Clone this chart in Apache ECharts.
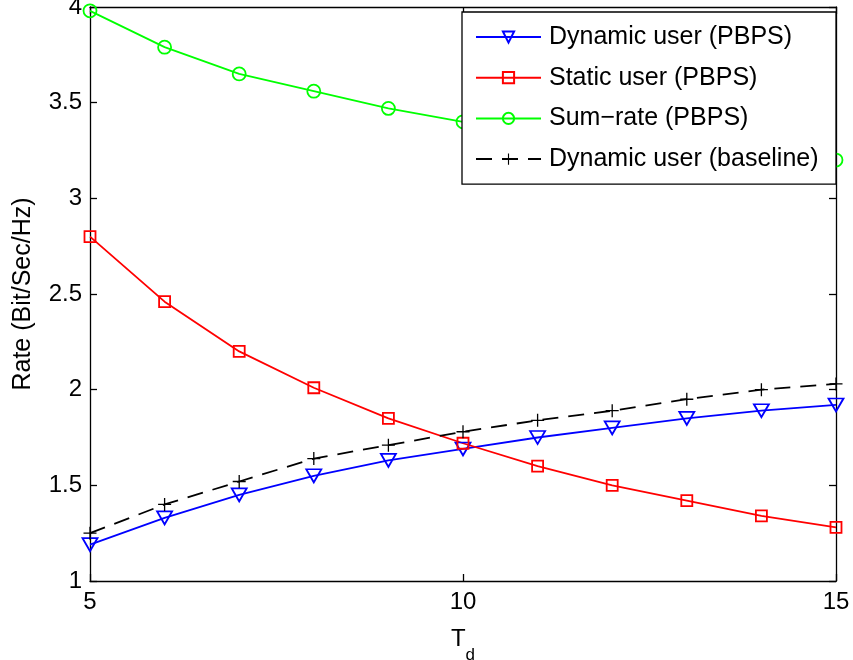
<!DOCTYPE html>
<html>
<head>
<meta charset="utf-8">
<script src="https://cdn.jsdelivr.net/npm/echarts@6/dist/echarts.min.js"></script>
<style>
html,body{margin:0;padding:0;background:#fff;}
#chart{width:853px;height:660px;}
</style>
</head>
<body>
<div id="chart"></div>
<script>
const tdValues = [5, 6, 7, 8, 9, 10, 11, 12, 13, 14, 15];
const dynamicPBPS = [1.19, 1.33, 1.45, 1.55, 1.63, 1.69, 1.75, 1.80, 1.85, 1.89, 1.92];
const staticPBPS = [2.80, 2.46, 2.20, 2.01, 1.85, 1.72, 1.60, 1.50, 1.42, 1.34, 1.28];
const sumRatePBPS = [3.98, 3.79, 3.65, 3.56, 3.47, 3.40, 3.35, 3.30, 3.27, 3.23, 3.20];
const dynamicBaseline = [1.25, 1.40, 1.52, 1.64, 1.71, 1.78, 1.84, 1.89, 1.95, 2.00, 2.03];
const seriesNames = ['Dynamic user (PBPS)', 'Static user (PBPS)', 'Sum\u2212rate (PBPS)', 'Dynamic user (baseline)'];
const xAxisTitle = 'T';
const xAxisSub = 'd';
const yAxisTitle = 'Rate (Bit/Sec/Hz)';

const FONT = '"Liberation Sans", Arial, Helvetica, sans-serif';
const pair = (xs, ys) => xs.map((x, i) => [x, ys[i]]);

const chart = echarts.init(document.getElementById('chart'), null, {renderer: 'canvas'});

const axisLineStyle = {color: '#000', width: 1.3};
const plusPath = 'path://M-1,-10 L1,-10 L1,-1 L10,-1 L10,1 L1,1 L1,10 L-1,10 L-1,1 L-10,1 L-10,-1 L-1,-1 Z';

const option = {
  animation: false,
  backgroundColor: '#fff',
  textStyle: {fontFamily: FONT},
  grid: {left: 90, right: 17, top: 7, bottom: 79, containLabel: false, outerBoundsMode: 'none'},
  xAxis: [
    {
      type: 'value', min: 5, max: 15, interval: 5, position: 'bottom',
      axisLine: {show: true, lineStyle: axisLineStyle},
      axisTick: {show: true, inside: true, length: 7, lineStyle: axisLineStyle},
      axisLabel: {show: true, color: '#000', fontSize: 24, fontFamily: FONT, margin: 9},
      splitLine: {show: false},
      name: '{t|' + xAxisTitle + '}{d|' + xAxisSub + '}',
      nameLocation: 'middle', nameGap: 46,
      nameTextStyle: {
        rich: {
          t: {fontSize: 24, fontFamily: FONT, color: '#000', verticalAlign: 'top', lineHeight: 37},
          d: {fontSize: 17, fontFamily: FONT, color: '#000', verticalAlign: 'bottom', lineHeight: 37}
        }
      }
    },
    {
      type: 'value', min: 5, max: 15, interval: 5, position: 'top',
      axisLine: {show: true, lineStyle: axisLineStyle},
      axisTick: {show: true, inside: true, length: 7, lineStyle: axisLineStyle},
      axisLabel: {show: false},
      splitLine: {show: false}
    }
  ],
  yAxis: [
    {
      type: 'value', min: 1, max: 4, interval: 0.5, position: 'left',
      axisLine: {show: true, lineStyle: axisLineStyle},
      axisTick: {show: true, inside: true, length: 7, lineStyle: axisLineStyle},
      axisLabel: {show: true, color: '#000', fontSize: 24, fontFamily: FONT, margin: 8, padding: [4, 0, 0, 0]},
      splitLine: {show: false},
      name: yAxisTitle, nameLocation: 'middle', nameGap: 54,
      nameTextStyle: {fontSize: 25, fontFamily: FONT, color: '#000'}
    },
    {
      type: 'value', min: 1, max: 4, interval: 0.5, position: 'right',
      axisLine: {show: true, lineStyle: axisLineStyle},
      axisTick: {show: true, inside: true, length: 7, lineStyle: axisLineStyle},
      axisLabel: {show: false},
      splitLine: {show: false}
    }
  ],
  legend: {
    orient: 'vertical',
    right: 17, top: 12,
    backgroundColor: '#fff',
    borderColor: '#000', borderWidth: 1.3, borderRadius: 0,
    padding: [12, 5, 12, 13],
    itemWidth: 65, itemHeight: 14, itemGap: 14.7,
    textStyle: {fontSize: 25, fontFamily: FONT, color: '#000', width: 282, lineHeight: 26, padding: [0, 0, 0, 3]},
    data: seriesNames
  },
  series: [
    {
      name: seriesNames[0], type: 'line', data: pair(tdValues, dynamicPBPS), clip: false,
      symbol: 'triangle', symbolRotate: 180, symbolSize: [15, 13],
      lineStyle: {color: '#0000ff', width: 1.8},
      itemStyle: {color: 'rgba(255,255,255,0)', borderColor: '#0000ff', borderWidth: 1.8},
      z: 3
    },
    {
      name: seriesNames[1], type: 'line', data: pair(tdValues, staticPBPS), clip: false,
      symbol: 'rect', symbolSize: 11,
      lineStyle: {color: '#ff0000', width: 1.8},
      itemStyle: {color: 'rgba(255,255,255,0)', borderColor: '#ff0000', borderWidth: 1.8},
      z: 3
    },
    {
      name: seriesNames[2], type: 'line', data: pair(tdValues, sumRatePBPS), clip: false,
      symbol: 'circle', symbolSize: 13,
      lineStyle: {color: '#00ff00', width: 1.8},
      itemStyle: {color: 'rgba(255,255,255,0)', borderColor: '#00ff00', borderWidth: 1.8},
      z: 2
    },
    {
      name: seriesNames[3], type: 'line', data: pair(tdValues, dynamicBaseline), clip: false,
      symbol: plusPath, symbolSize: 13,
      lineStyle: {color: '#000', width: 1.8, type: [16, 10]},
      itemStyle: {color: '#000', borderWidth: 0},
      z: 3
    }
  ]
};
chart.setOption(option);
</script>
</body>
</html>
